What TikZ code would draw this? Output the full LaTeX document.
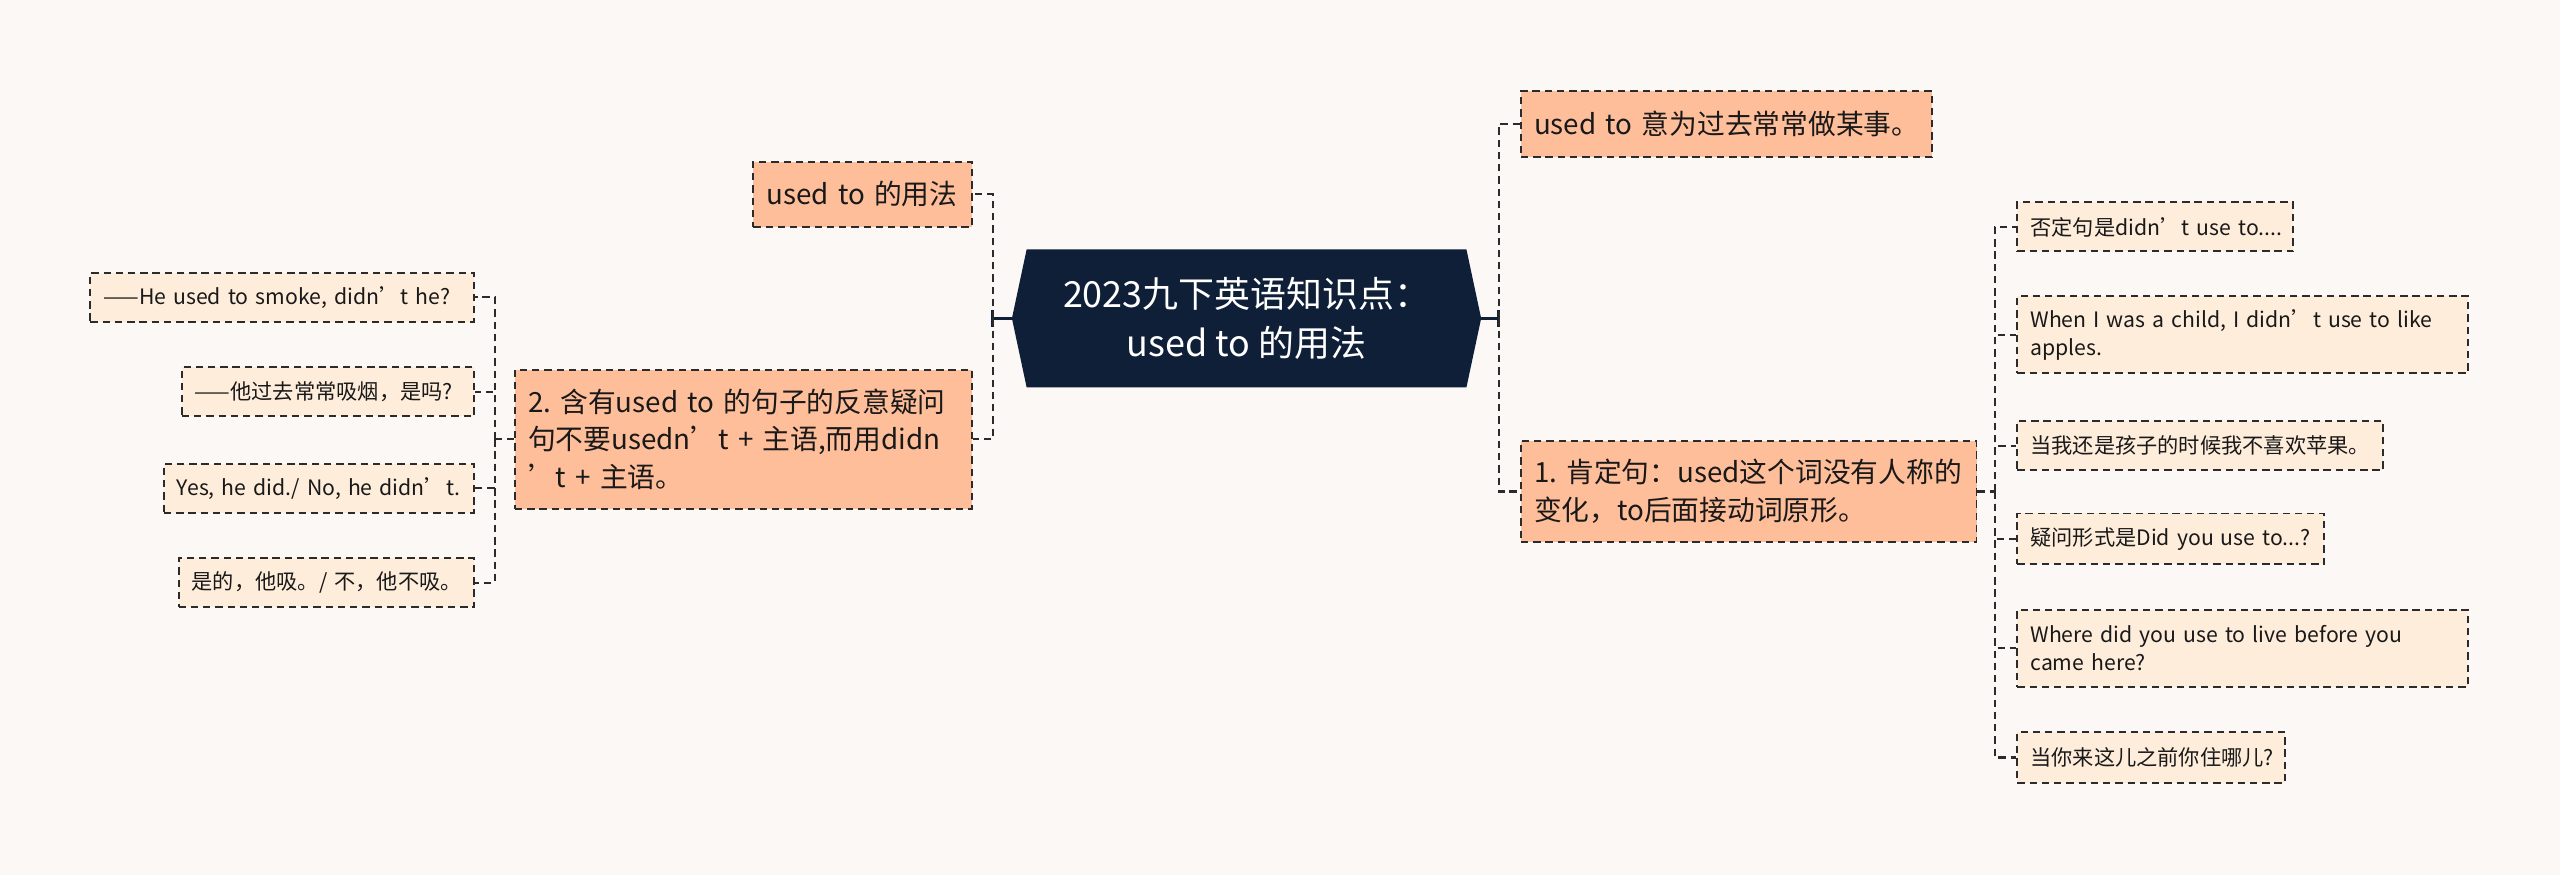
\documentclass[tikz,border=0pt]{standalone}
\usepackage{fontspec}
\setmainfont{Noto Sans CJK SC}
\usetikzlibrary{backgrounds}
\definecolor{bgc}{HTML}{FCF8F6}
\definecolor{salmon}{HTML}{FFBE9A}
\definecolor{peach}{HTML}{FFEDDC}
\definecolor{navy}{HTML}{0F1F38}
\definecolor{bord}{HTML}{2B2B2B}
\newcommand{\oneline}[1]{\mbox{#1}}
\frenchspacing
\tikzset{
  box/.style={draw=bord, line width=1.2pt, dash pattern=on 4.5pt off 3pt, inner xsep=8pt, inner ysep=2pt, align=left, text=black!90},
  mainbox/.style={box, fill=salmon, font=\fontsize{17pt}{23pt}\selectfont},
  subbox/.style={box, fill=peach, font=\fontsize{13pt}{17pt}\selectfont},
  conn/.style={draw=bord, line width=1.4pt, dash pattern=on 4.5pt off 3pt},
  stub/.style={draw=navy, line width=2pt},
  rootbox/.style={inner sep=0pt, align=center, text=white, font=\fontsize{22pt}{30pt}\selectfont}
}
\begin{document}
\begin{tikzpicture}[x=1pt,y=-1pt]
\useasboundingbox (0,0) rectangle (1568,536);

% root
\node[rootbox, minimum width=287pt, minimum height=84pt] (root) at (763.5,195) {2023九下英语知识点：\\used to 的用法};
\begin{scope}[on background layer]
\fill[bgc] (0,0) rectangle (1568,536);
\fill[navy] (root.west) -- ([xshift=9pt]root.north west) -- ([xshift=-9pt]root.north east) -- (root.east) -- ([xshift=-9pt]root.south east) -- ([xshift=9pt]root.south west) -- cycle;
\end{scope}

\coordinate (rootL) at (608,195);
\coordinate (rootR) at (918,195);

% right branch
\node[mainbox, anchor=west, minimum width=252pt, minimum height=40pt, text width=236pt] (A) at (931,76) {\oneline{used to 意为过去常常做某事。}};
\node[mainbox, anchor=west, minimum width=279pt, minimum height=62pt, text width=263pt] (B) at (931,301) {\oneline{1. 肯定句：used这个词没有人称的}\\\oneline{变化，to后面接动词原形。}};

\coordinate (bR) at (1222,301);

\node[subbox, anchor=west, minimum width=169pt, minimum height=30pt, text width=153pt] (C1) at (1235,139) {\oneline{否定句是didn’t use to....}};
\node[subbox, anchor=west, minimum width=276pt, minimum height=47pt, text width=260pt] (C2) at (1235,205) {\oneline{When I was a child, I didn’t use to like}\\\oneline{apples.}};
\node[subbox, anchor=west, minimum width=224pt, minimum height=30pt, text width=208pt] (C3) at (1235,273) {\oneline{当我还是孩子的时候我不喜欢苹果。}};
\node[subbox, anchor=west, minimum width=188pt, minimum height=31pt, text width=172pt] (C4) at (1235,330) {\oneline{疑问形式是Did you use to...?}};
\node[subbox, anchor=west, minimum width=276pt, minimum height=47pt, text width=260pt] (C5) at (1235,397) {\oneline{Where did you use to live before you}\\\oneline{came here?}};
\node[subbox, anchor=west, minimum width=164pt, minimum height=31pt, text width=148pt] (C6) at (1235,464) {\oneline{当你来这儿之前你住哪儿?}};

% left branch
\node[mainbox, anchor=east, minimum width=134pt, minimum height=40pt, text width=118pt] (D) at (596,119) {\oneline{used to 的用法}};
\node[mainbox, anchor=east, minimum width=280pt, minimum height=85pt, text width=264pt] (E) at (596,269) {\oneline{2. 含有used to 的句子的反意疑问}\\\oneline{句不要usedn’t + 主语,而用didn}\\\oneline{’t + 主语。}};

\coordinate (eL) at (303,269);

\node[subbox, anchor=east, minimum width=235pt, minimum height=30pt, text width=219pt] (F1) at (291,182) {\oneline{——He used to smoke, didn’t he?}};
\node[subbox, anchor=east, minimum width=179pt, minimum height=30pt, text width=163pt] (F2) at (291,240) {\oneline{——他过去常常吸烟，是吗?}};
\node[subbox, anchor=east, minimum width=190pt, minimum height=30pt, text width=174pt] (F3) at (291,299) {\oneline{Yes, he did./ No, he didn’t.}};
\node[subbox, anchor=east, minimum width=181pt, minimum height=30pt, text width=165pt] (F4) at (291,357) {\oneline{是的，他吸。/ 不，他不吸。}};

% connectors
\draw[stub] (root.west) -- (rootL);
\draw[stub] ([yshift=-5pt]rootL) -- ([yshift=5pt]rootL);
\draw[stub] (root.east) -- (rootR);
\draw[stub] ([yshift=-5pt]rootR) -- ([yshift=5pt]rootR);

\draw[conn] (rootR) |- (A.west);
\draw[conn] (rootR) |- (B.west);
\draw[conn] (rootL) |- (D.east);
\draw[conn] (rootL) |- (E.east);

\draw[conn] (B.east) -- (bR);
\foreach \n in {C1,C2,C3,C4,C5,C6} \draw[conn] (bR) |- (\n.west);

\draw[conn] (E.west) -- (eL);
\foreach \n in {F1,F2,F3,F4} \draw[conn] (eL) |- (\n.east);
\end{tikzpicture}
\end{document}
